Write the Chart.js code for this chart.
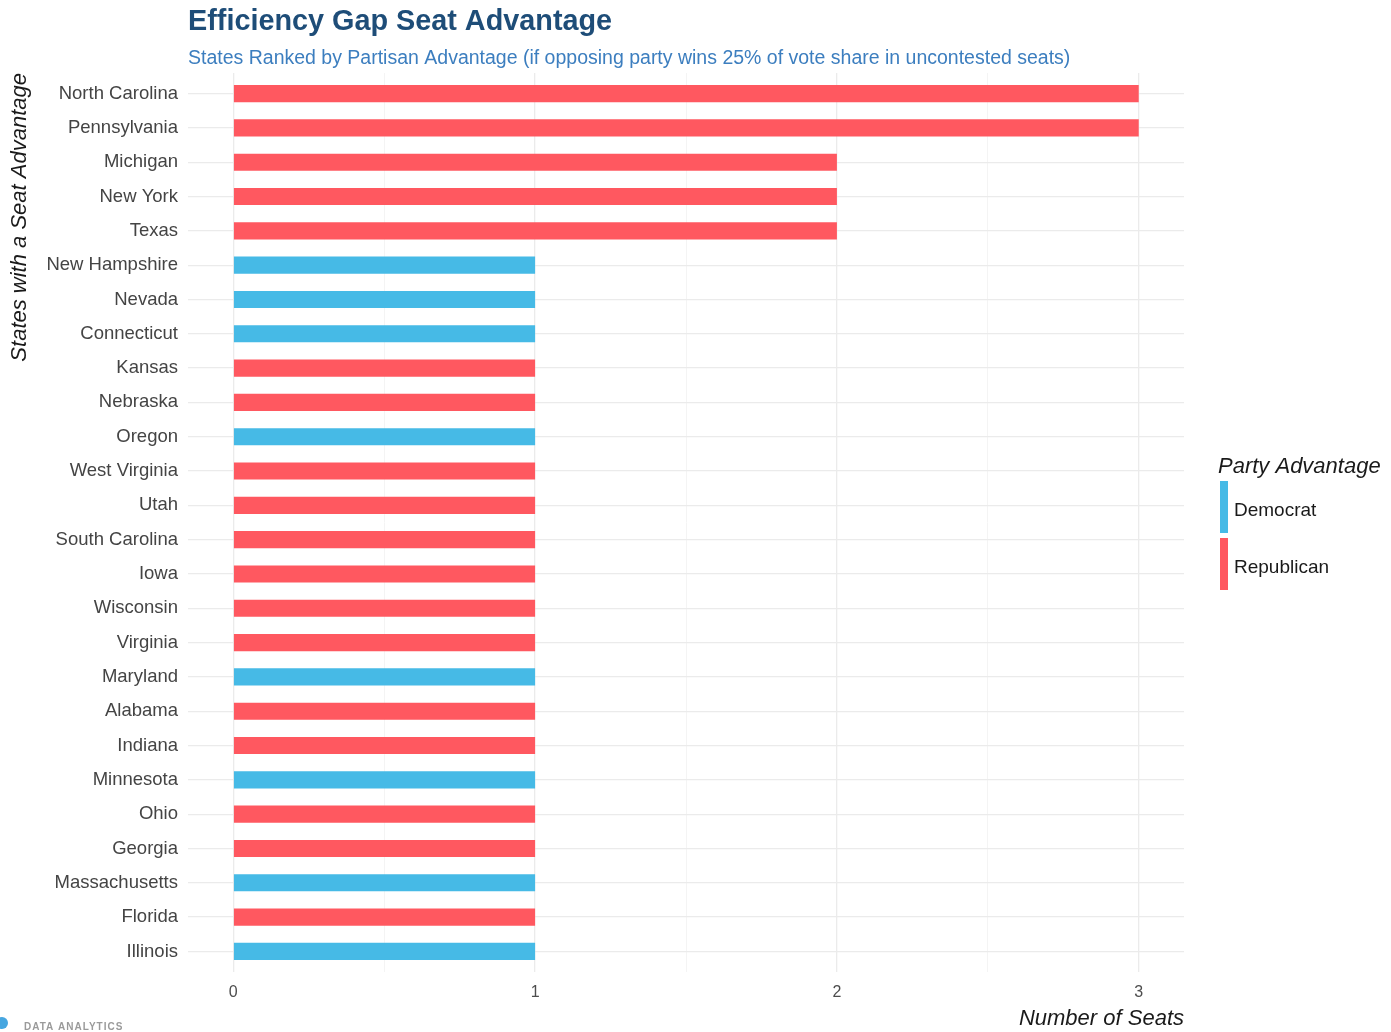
<!DOCTYPE html>
<html>
<head>
<meta charset="utf-8">
<script src="https://cdn.jsdelivr.net/npm/chart.js@4.4.1/dist/chart.umd.min.js"></script>
<style>
  html, body { margin: 0; padding: 0; background: #fff; }
  #wrap { position: relative; width: 1391px; height: 1032px; }
</style>
</head>
<body>
<div id="wrap"><canvas id="gapChart"></canvas></div>
<script>
// States ranked top to bottom, seats of advantage, and which party holds it
const states = ['North Carolina','Pennsylvania','Michigan','New York','Texas','New Hampshire','Nevada',
  'Connecticut','Kansas','Nebraska','Oregon','West Virginia','Utah','South Carolina','Iowa','Wisconsin',
  'Virginia','Maryland','Alabama','Indiana','Minnesota','Ohio','Georgia','Massachusetts','Florida','Illinois'];
const seats = [3, 3, 2, 2, 2, 1, 1, 1, 1, 1, 1, 1, 1, 1, 1, 1, 1, 1, 1, 1, 1, 1, 1, 1, 1, 1];
const party = ['R','R','R','R','R','D','D','D','R','R','D','R','R','R','R','R','R','D','R','R','D','R','R','D','R','D'];

const parties = ['Democrat', 'Republican'];
const partyCodes = ['D', 'R'];
const partyColors = ['#46BAE6', '#FF5860'];

const xTicks = [0, 1, 2, 3];
const xTickLabels = ['0', '1', '2', '3'];
const xMinor = [0.5, 1.5, 2.5];

const FONT = "'Liberation Sans', Arial, sans-serif";
Chart.defaults.font.family = FONT;

// rank 0 sits at the top of the y scale
const rankPos = i => states.length - 1 - i;

const datasets = parties.map((name, k) => ({
  label: name,
  data: states.map((s, i) => party[i] === partyCodes[k] ? { x: seats[i], y: rankPos(i) } : null).filter(d => d),
  backgroundColor: partyColors[k],
  borderWidth: 0,
  grouped: false,
  barPercentage: 0.5,
  categoryPercentage: 1
}));

// title, subtitle, legend and footer mark drawn on the canvas
const extras = {
  id: 'extras',
  afterDraw(chart) {
    const c = chart.ctx;
    c.save();
    c.textAlign = 'left';
    c.textBaseline = 'alphabetic';
    c.fillStyle = '#1E4D78';
    c.font = `bold 28.8px ${FONT}`;
    c.fillText('Efficiency Gap Seat Advantage', 188, 30);
    c.fillStyle = '#3C7EBF';
    c.font = `19.5px ${FONT}`;
    c.fillText('States Ranked by Partisan Advantage (if opposing party wins 25% of vote share in uncontested seats)', 188, 64);

    // legend
    c.fillStyle = '#1a1a1a';
    c.font = `italic 22px ${FONT}`;
    c.fillText('Party Advantage', 1218, 473);
    parties.forEach((name, k) => {
      const top = 481 + k * 57;
      c.fillStyle = partyColors[k];
      c.fillRect(1220, top, 8, 52);
      c.fillStyle = '#1a1a1a';
      c.font = `19px ${FONT}`;
      c.fillText(name, 1234, top + 35);
    });

    // footer
    c.fillStyle = '#46A6E0';
    c.beginPath();
    c.arc(2, 1023, 6, 0, Math.PI * 2);
    c.fill();
    c.fillStyle = '#9a9a9a';
    c.font = `bold 10px ${FONT}`;
    c.letterSpacing = '1px';
    c.fillText('DATA ANALYTICS', 24, 1030);
    c.restore();
  }
};

new Chart(document.getElementById('gapChart'), {
  type: 'bar',
  data: { datasets },
  options: {
    indexAxis: 'y',
    responsive: true, maintainAspectRatio: false,
    animation: false,
    layout: { padding: { top: 73, right: 207, bottom: 0, left: 0 } },
    plugins: {
      legend: { display: false },
      tooltip: { enabled: true }
    },
    scales: {
      x: {
        type: 'linear',
        min: -0.15, max: 3.15,
        afterBuildTicks: s => { s.ticks = [...xTicks, ...xMinor].sort((a, b) => a - b).map(v => ({ value: v })); },
        afterFit: s => { s.height = 60; },
        border: { display: false },
        grid: {
          color: ctx => xTicks.includes(ctx.tick.value) ? '#EBEBEB' : '#F4F4F4',
          lineWidth: ctx => xTicks.includes(ctx.tick.value) ? 1.3 : 1,
          drawTicks: false
        },
        ticks: {
          padding: 11,
          color: '#4d4d4d',
          font: { size: 16 },
          autoSkip: false,
          maxRotation: 0,
          callback: v => { const i = xTicks.indexOf(v); return i < 0 ? '' : xTickLabels[i]; }
        },
        title: {
          display: true, text: 'Number of Seats', align: 'end',
          color: '#1a1a1a',
          font: { size: 22, style: 'italic' },
          padding: { top: 0, bottom: 0 }
        }
      },
      y: {
        type: 'linear',
        offset: false,
        min: -0.6, max: states.length - 1 + 0.6,
        afterBuildTicks: s => { s.ticks = states.map((_, i) => ({ value: rankPos(i) })); },
        afterFit: s => { s.width = 188; },
        border: { display: false },
        grid: { color: '#EBEBEB', lineWidth: 1.3, drawTicks: false, offset: false },
        ticks: {
          padding: 10,
          color: '#444',
          font: { size: 18.5 },
          autoSkip: false,
          callback: v => states[rankPos(v)]
        },
        title: {
          display: true, text: 'States with a Seat Advantage', align: 'end',
          color: '#1a1a1a',
          font: { size: 22, style: 'italic' },
          padding: { top: 7, bottom: 0 }
        }
      }
    }
  },
  plugins: [extras]
});
</script>
</body>
</html>
